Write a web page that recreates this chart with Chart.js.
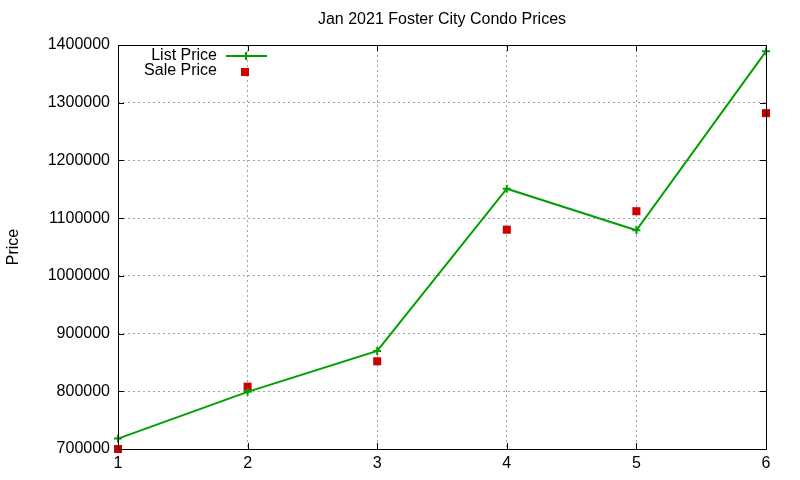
<!DOCTYPE html>
<html>
<head>
<meta charset="utf-8">
<script src="https://cdn.jsdelivr.net/npm/chart.js@4"></script>
<style>
  html, body { margin: 0; padding: 0; background: #fff; }
  #wrap { width: 800px; height: 480px; }
</style>
</head>
<body>
<div id="wrap"><canvas id="c"></canvas></div>
<script>
const months = [1, 2, 3, 4, 5, 6];
const listPrice = [718000, 799000, 870000, 1151000, 1079000, 1389000];
const salePrice = [700000, 808000, 852000, 1080000, 1112000, 1282000];
const yTicks = [700000, 800000, 900000, 1000000, 1100000, 1200000, 1300000, 1400000];

const FONT = 'Liberation Sans, Arial, sans-serif';
const GREEN = '#00a000', RED = '#cc0000';

// gnuplot-ish frame: title, box, inward mirror ticks, key
const frame = {
  id: 'frame',
  afterDraw(chart) {
    const { ctx, chartArea: a, scales: { x, y } } = chart;
    ctx.save();
    ctx.fillStyle = '#000';
    ctx.font = '16px ' + FONT;
    ctx.textAlign = 'center';
    ctx.textBaseline = 'middle';
    ctx.fillText('Jan 2021 Foster City Condo Prices', (a.left + a.right) / 2, 20);

    ctx.strokeStyle = '#000';
    ctx.lineWidth = 1;
    ctx.strokeRect(a.left + 0.5, a.top + 0.5, a.right - a.left, a.bottom - a.top);
    ctx.beginPath();
    months.forEach(m => {
      const px = Math.round(x.getPixelForValue(m)) + 0.5;
      ctx.moveTo(px, a.bottom); ctx.lineTo(px, a.bottom - 6);
      ctx.moveTo(px, a.top); ctx.lineTo(px, a.top + 6);
    });
    yTicks.forEach(v => {
      const py = Math.round(y.getPixelForValue(v)) + 0.5;
      ctx.moveTo(a.left, py); ctx.lineTo(a.left + 6, py);
      ctx.moveTo(a.right, py); ctx.lineTo(a.right - 6, py);
    });
    ctx.stroke();

    // key
    ctx.font = '16px ' + FONT;
    ctx.textAlign = 'right';
    ctx.fillText('List Price', 217, 56);
    ctx.fillText('Sale Price', 217, 71);
    ctx.strokeStyle = GREEN;
    ctx.lineWidth = 2;
    ctx.beginPath();
    ctx.moveTo(226, 56); ctx.lineTo(267, 56);
    ctx.moveTo(246, 52); ctx.lineTo(246, 60);
    ctx.stroke();
    ctx.fillStyle = RED;
    ctx.fillRect(241, 68, 8, 8);
    ctx.restore();
  }
};

new Chart(document.getElementById('c'), {
  type: 'line',
  data: {
    datasets: [
      {
        label: 'List Price',
        data: months.map((m, i) => ({ x: m, y: listPrice[i] })),
        borderColor: GREEN, backgroundColor: GREEN, borderWidth: 2,
        pointStyle: 'cross', pointRadius: 4, pointBorderWidth: 2,
        pointBorderColor: GREEN, tension: 0, clip: false
      },
      {
        label: 'Sale Price',
        data: months.map((m, i) => ({ x: m, y: salePrice[i] })),
        showLine: false, pointStyle: 'rect', pointRadius: 5.7,
        backgroundColor: RED, borderColor: RED, pointBorderWidth: 0, clip: false
      }
    ]
  },
  options: {
    responsive: true, maintainAspectRatio: false, animation: false,
    layout: { padding: { top: 45, right: 34, left: 0, bottom: 0 } },
    plugins: { legend: { display: false }, title: { display: false }, tooltip: { enabled: false } },
    scales: {
      x: {
        type: 'linear', min: 1, max: 6,
        afterFit: s => { s.height = 31; },
        afterBuildTicks: s => { s.ticks = months.map(v => ({ value: v })); },
        ticks: { color: '#000', font: { family: FONT, size: 16 }, padding: 5, callback: v => String(v) },
        grid: { color: '#a0a0a0', lineWidth: 1, drawTicks: false },
        border: { display: false, dash: [2, 3] }
      },
      y: {
        type: 'linear', min: 700000, max: 1400000,
        afterFit: s => { s.width = 118; },
        afterBuildTicks: s => { s.ticks = yTicks.map(v => ({ value: v })); },
        ticks: { color: '#000', font: { family: FONT, size: 16 }, padding: 8, callback: v => String(v) },
        grid: { color: '#a0a0a0', lineWidth: 1, drawTicks: false },
        border: { display: false, dash: [2, 3] },
        title: { display: true, text: 'Price', color: '#000', font: { family: FONT, size: 16 }, padding: { top: 4, bottom: 4 } }
      }
    }
  },
  plugins: [frame]
});
</script>
</body>
</html>
